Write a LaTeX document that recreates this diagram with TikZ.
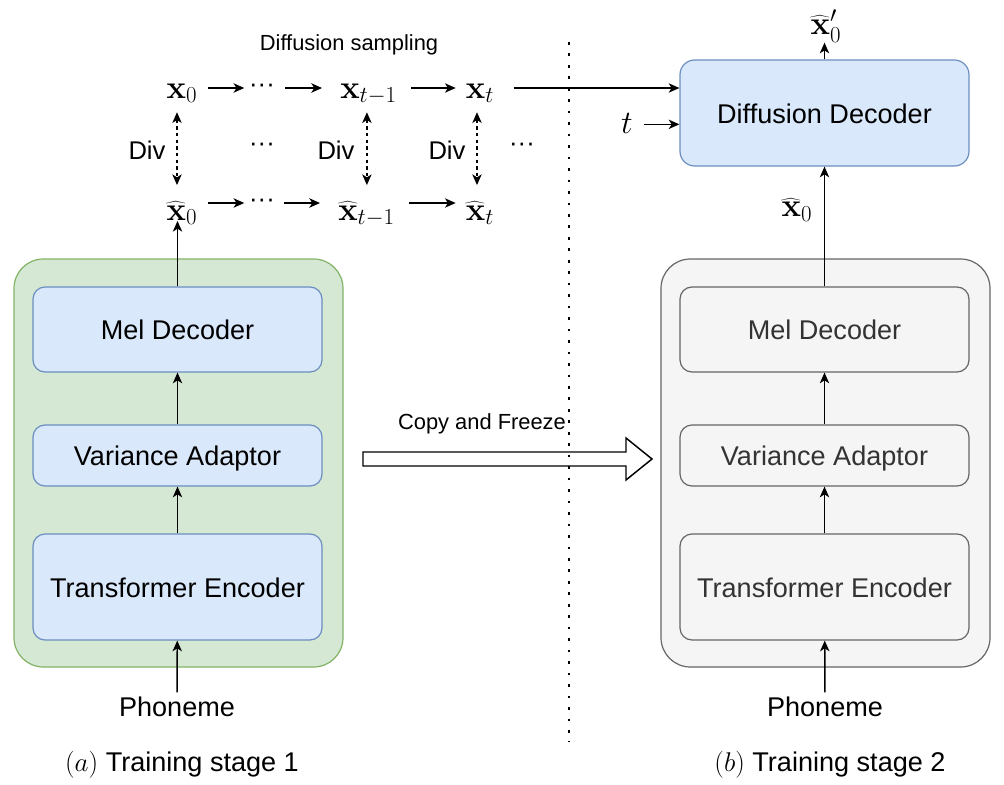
\RequirePackage{fix-cm}
\documentclass[tikz,border=0pt]{standalone}
\usepackage[no-math]{fontspec}
\setmainfont{Liberation Sans}
\usetikzlibrary{arrows.meta,calc}
\definecolor{gfill}{HTML}{D5E8D4}
\definecolor{gline}{HTML}{82B366}
\definecolor{bfill}{HTML}{DAE8FC}
\definecolor{bline}{HTML}{6C8EBF}
\definecolor{hfill}{HTML}{F5F5F5}
\definecolor{hline}{HTML}{666666}
\definecolor{htext}{HTML}{333333}
\newcommand{\boxfont}{\fontsize{20.3}{24}\selectfont}
\newcommand{\smallfnt}{\fontsize{16.4}{20}\selectfont}
\newcommand{\divfont}{\fontsize{19.2}{23}\selectfont}
\newcommand{\mfont}{\fontsize{24.5}{29}\selectfont}
\begin{document}
\begin{tikzpicture}[x=0.75pt,y=-0.75pt,
  arr/.style={-{Stealth[length=8pt,width=7pt,inset=2.2pt]}, line width=1.1pt},
  divarr/.style={{Stealth[length=8pt,width=7pt,inset=2.2pt]}-{Stealth[length=8pt,width=7pt,inset=2.2pt]}, line width=1.1pt, dash pattern=on 2.6pt off 2.4pt},
  dotline/.style={line width=2pt, dash pattern=on 2pt off 6.6pt},
  container/.style={line width=0.9pt, rounded corners=22pt, minimum width=246.75pt, minimum height=306pt},
  bbox/.style={line width=0.9pt, rounded corners=9pt, font=\boxfont, minimum width=216.75pt, inner sep=0pt, text height=19.5pt, text depth=4.3pt},
  blue/.style={draw=bline, fill=bfill},
  gray/.style={draw=hline, fill=hfill, text=htext},
  mtop/.style={font=\mfont, anchor=base, inner ysep=0pt, inner xsep=7.5pt, text height=16pt, text depth=1pt},
  mbot/.style={font=\mfont, anchor=base, inner ysep=0pt, inner xsep=7.5pt, text height=26pt, text depth=0.5pt},
  dots/.style={font=\divfont, inner xsep=3.5pt, inner ysep=0pt},
  lbl/.style={font=\boxfont}
]
\useasboundingbox (0,0) rectangle (1004,785);

% containers
\node[container, draw=gline, fill=gfill] (stage1) at (178.5,463) {};
\node[container, draw=hline, fill=hfill] (stage2) at (825.5,463) {};

% stage 1 boxes
\node[bbox, blue, minimum height=63.75pt] (mel1) at (177.5,329.5) {Mel Decoder};
\node[bbox, blue, minimum height=45.75pt] (va1) at (177.5,455.5) {Variance Adaptor};
\node[bbox, blue, minimum height=79.5pt] (te1) at (177.5,587) {Transformer Encoder};
\node[lbl] (ph1) at (177,707) {Phoneme};

% stage 2 boxes
\node[bbox, gray, minimum height=63.75pt] (mel2) at (824.5,329.5) {Mel Decoder};
\node[bbox, gray, minimum height=45.75pt] (va2) at (824.5,455.5) {Variance Adaptor};
\node[bbox, gray, minimum height=79.5pt] (te2) at (824.5,587) {Transformer Encoder};
\node[lbl] (ph2) at (825,707) {Phoneme};
\node[bbox, blue, rounded corners=11pt, minimum height=79.5pt] (dd) at (824.5,113) {Diffusion Decoder};

% arrows stage 1 and 2
\draw[arr] (ph1) -- (te1);
\draw[arr] (te1) -- (va1);
\draw[arr] (va1) -- (mel1);
\draw[arr] (ph2) -- (te2);
\draw[arr] (te2) -- (va2);
\draw[arr] (va2) -- (mel2);

% diffusion sampling rows
\node[font=\smallfnt] (ds) at (349,45) {Diffusion sampling};
\node[mtop] (x0) at (182,98) {$\mathbf{x}_0$};
\node[dots] (d1) at (262,88) {\textperiodcentered\textperiodcentered\textperiodcentered};
\node[mtop] (xt1) at (368.5,98) {$\mathbf{x}_{t-1}$};
\node[mtop] (xt) at (480,98) {$\mathbf{x}_t$};

\node[mbot] (xh0) at (182,220) {$\widehat{\mathbf{x}}_0$};
\node[dots] (d2) at (262,203) {\textperiodcentered\textperiodcentered\textperiodcentered};
\node[mbot] (xht1) at (366.5,220) {$\widehat{\mathbf{x}}_{t-1}$};
\node[mbot] (xht) at (480,220) {$\widehat{\mathbf{x}}_t$};

\node[font=\divfont] (div1) at (147,150) {Div};
\node[font=\divfont] (div2) at (336,150) {Div};
\node[font=\divfont] (div3) at (447,150) {Div};
\node[dots] (d3) at (262,147) {\textperiodcentered\textperiodcentered\textperiodcentered};
\node[dots] (d4) at (522,147) {\textperiodcentered\textperiodcentered\textperiodcentered};

\draw[arr] (x0) -- (d1);
\draw[arr, shorten <=4pt, shorten >=6pt] (d1) -- (xt1);
\draw[arr, shorten <=3pt] (xt1) -- (xt);
\draw[arr, shorten <=7pt] (xt) -- (xt -| dd.west);

\draw[arr] (xh0) -- (d2);
\draw[arr, shorten <=3pt, shorten >=6pt] (d2) -- (xht1);
\draw[arr, shorten <=3pt] (xht1) -- (xht);

\draw[divarr, shorten <=9.5pt] ([xshift=-3.75pt]x0.south) -- ([xshift=-3.75pt]xh0.north);
\draw[divarr, shorten <=9.5pt] ([xshift=-1.2pt]xt1.south) -- ([xshift=-1.2pt]xt1.south |- xht1.north);
\draw[divarr, shorten <=9.5pt] ([xshift=-2.25pt]xt.south) -- ([xshift=-2.25pt]xht.north);

\draw[arr] (mel1.north) -- (mel1.north |- xh0.south);

% stage 2 top
\node[font=\mfont, anchor=base, inner sep=0pt, text height=14pt, text depth=1pt] (tt) at (627,133) {$t$};
\draw[arr, shorten <=8pt] (tt) -- (tt -| dd.west);
\node[font=\mfont, anchor=base, inner sep=0pt, text depth=5pt, outer sep=1.5pt] (xp) at (826,34) {${\widehat{\mathbf{x}}'}_0$};
\draw[arr] (dd.north) -- (dd.north |- xp.south);
\draw[arr] (mel2.north) -- (dd.south);
\node[font=\mfont] (xh0r) at (797,210) {$\widehat{\mathbf{x}}_0$};

% copy and freeze
\node[font=\smallfnt] (cf) at (482,424) {Copy and Freeze};
\draw[line width=1.1pt, fill=white] (363,452) -- (626,452) -- (626,438) -- (652,459) -- (626,480) -- (626,466) -- (363,466) -- cycle;

% divider
\coordinate (dtop) at (569,42);
\coordinate (dbot) at (569,742);
\draw[dotline] (dtop) -- (dbot);

% captions
\node[lbl] (cap1) at (182,765) {$(a)$ Training stage 1};
\node[lbl] (cap2) at (830,765) {$(b)$ Training stage 2};
\end{tikzpicture}
\end{document}
